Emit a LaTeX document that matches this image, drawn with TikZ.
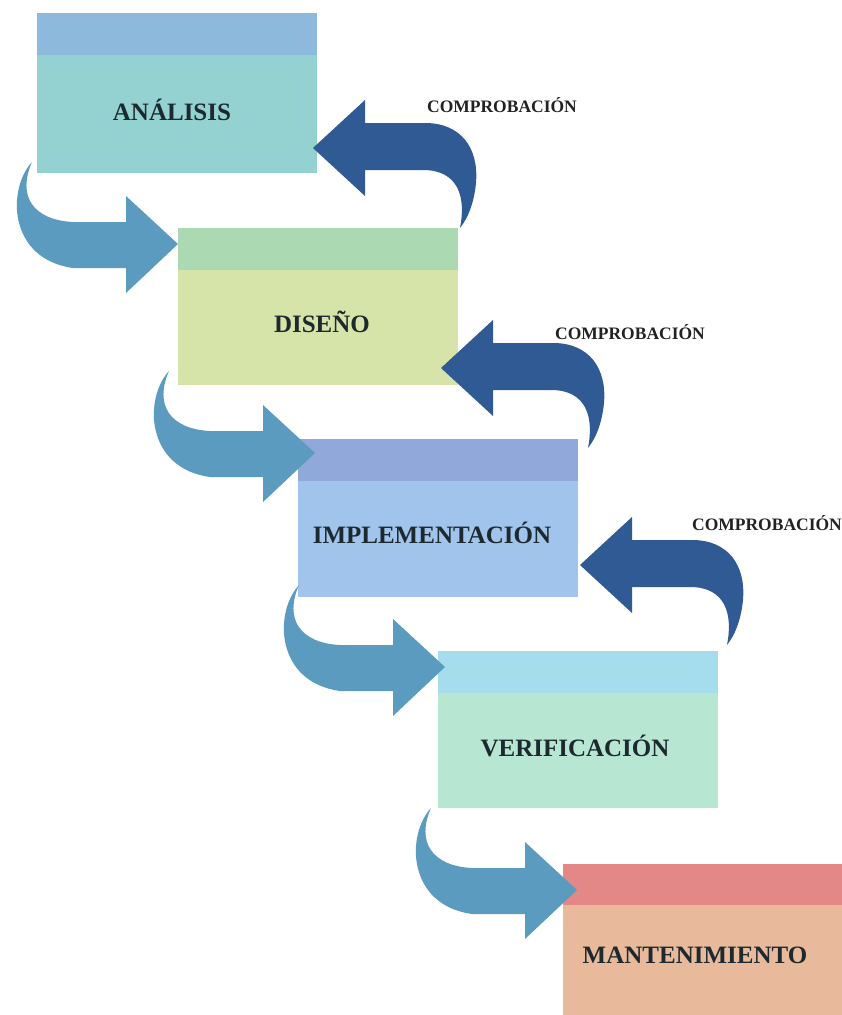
\documentclass[tikz,border=0pt]{standalone}
\usepackage{fontspec}
\setmainfont{Liberation Serif}
\definecolor{bandA}{HTML}{8DB9DD}\definecolor{bodyA}{HTML}{94D1D1}
\definecolor{bandB}{HTML}{ABD9B1}\definecolor{bodyB}{HTML}{D7E4A9}
\definecolor{bandC}{HTML}{90A9DA}\definecolor{bodyC}{HTML}{A0C4EC}
\definecolor{bandD}{HTML}{A6DDEC}\definecolor{bodyD}{HTML}{B7E7D3}
\definecolor{bandE}{HTML}{E38787}\definecolor{bodyE}{HTML}{E8B99A}
\definecolor{fwdcol}{HTML}{5A9BBF}
\definecolor{backcol}{HTML}{2F5A94}
\definecolor{txtcol}{HTML}{1C2A30}
\definecolor{lblcol}{HTML}{222222}
\tikzset{
  stagebox/.style={rectangle, inner sep=0pt, outer sep=0pt, minimum width=280pt, anchor=north west},
  stagetext/.style={inner sep=0pt, text=txtcol, font=\bfseries\fontsize{25}{29}\selectfont},
  checklabel/.style={inner sep=0pt, text=lblcol, font=\bfseries\fontsize{17.5}{20}\selectfont},
  fwdarrow/.pic={\fill[fwdcol] (0,0) -- (-52,-48) -- (-52,-22) -- (-105,-22)
      .. controls (-145,-24) and (-161,-48) .. (-146,-82)
      .. controls (-171,-55) and (-170,15) .. (-105,24)
      -- (-52,24) -- (-52,49) -- cycle;},
  backarrow/.pic={\fill[backcol] (0,0) -- (52,-48) -- (52,-25) -- (112,-25)
      .. controls (148,-25) and (166,0) .. (163,35)
      .. controls (161,55) and (155,70) .. (147,80)
      .. controls (153,50) and (146,22) .. (110,22)
      -- (52,22) -- (52,48) -- cycle;}
}
\begin{document}
\begin{tikzpicture}[x=1pt,y=-1pt]
\useasboundingbox (0,0) rectangle (842,1015);
% boxes
\node[stagebox, fill=bodyA, minimum height=160pt] (b1) at (37,13) {};
\fill[bandA] (b1.north west) rectangle ([yshift=-42pt]b1.north east);
\node[stagebox, fill=bodyB, minimum height=157pt] (b2) at (178,228) {};
\fill[bandB] (b2.north west) rectangle ([yshift=-42pt]b2.north east);
\node[stagebox, fill=bodyC, minimum height=158pt] (b3) at (298,439) {};
\fill[bandC] (b3.north west) rectangle ([yshift=-42pt]b3.north east);
\node[stagebox, fill=bodyD, minimum height=157pt] (b4) at (438,651) {};
\fill[bandD] (b4.north west) rectangle ([yshift=-42pt]b4.north east);
\node[stagebox, fill=bodyE, minimum height=151pt, minimum width=279pt] (b5) at (563,864) {};
\fill[bandE] (b5.north west) rectangle ([yshift=-41pt]b5.north east);
% texts
\node[stagetext] (t1) at (172,110) {ANÁLISIS};
\node[stagetext] (t2) at (322,322) {DISEÑO};
\node[stagetext] (t3) at (432,533) {IMPLEMENTACIÓN};
\node[stagetext] (t4) at (575,746) {VERIFICACIÓN};
\node[stagetext] (t5) at (695,955) {MANTENIMIENTO};
% forward arrows
\coordinate (f1) at ([yshift=-16pt]b2.north west);
\coordinate (f2) at ([xshift=17pt,yshift=-14pt]b3.north west);
\coordinate (f3) at ([xshift=7pt,yshift=-16pt]b4.north west);
\coordinate (f4) at ([xshift=14pt,yshift=-26pt]b5.north west);
\pic at (f1) {fwdarrow};
\pic at (f2) {fwdarrow};
\pic at (f3) {fwdarrow};
\pic at (f4) {fwdarrow};
% back arrows
\coordinate (k1) at ([xshift=-4pt,yshift=25pt]b1.south east);
\coordinate (k2) at ([xshift=-17pt,yshift=17pt]b2.south east);
\coordinate (k3) at ([xshift=2pt,yshift=32pt]b3.south east);
\pic at (k1) {backarrow};
\pic at (k2) {backarrow};
\pic at (k3) {backarrow};
% labels
\node[checklabel] (c1) at (502,105) {COMPROBACIÓN};
\node[checklabel] (c2) at (630,332) {COMPROBACIÓN};
\node[checklabel] (c3) at (767,523) {COMPROBACIÓN};
\end{tikzpicture}
\end{document}
